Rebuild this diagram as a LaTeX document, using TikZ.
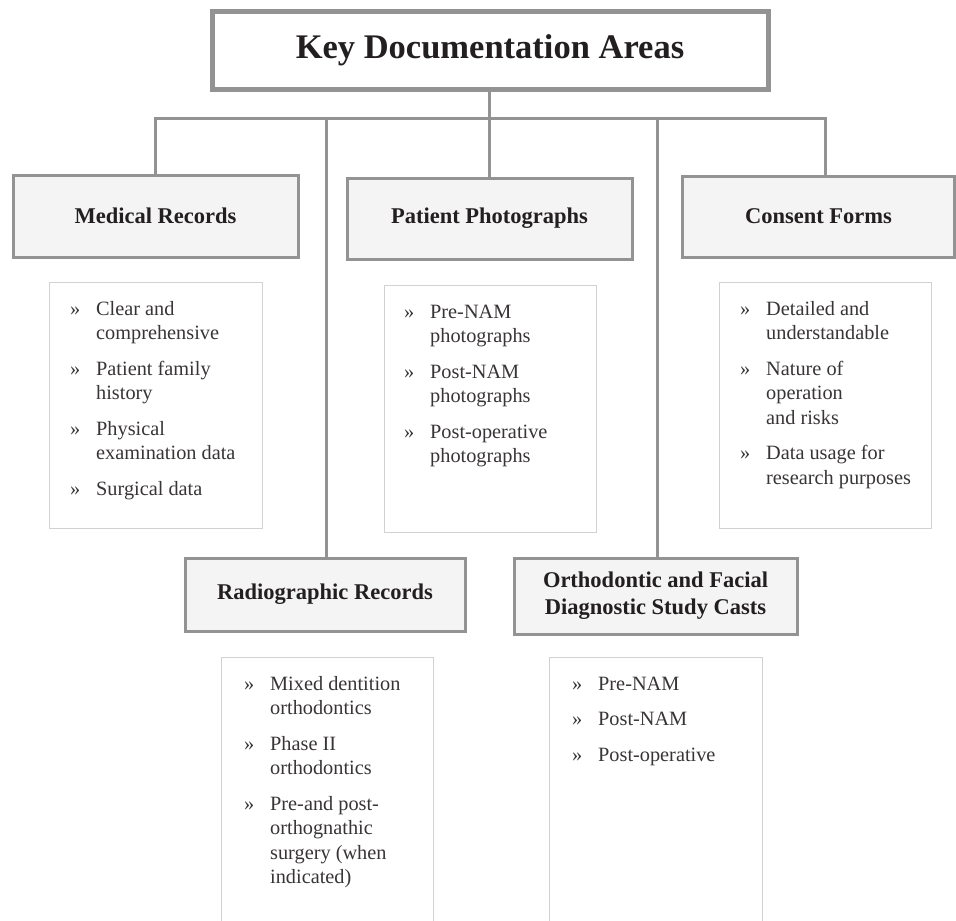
\documentclass[tikz,border=0pt]{standalone}
\usepackage{fontspec}
\setmainfont{Liberation Serif}
\definecolor{linegray}{HTML}{939393}
\definecolor{boxfill}{HTML}{F4F4F4}
\definecolor{listgray}{HTML}{D2D2D2}
\definecolor{txt}{HTML}{231F20}
\newcommand{\bul}{\makebox[26pt][l]{»}}
\begin{document}
\begin{tikzpicture}[x=1pt,y=-1pt,
  conn/.style={draw=linegray, line width=3pt},
  head/.style={draw=linegray, line width=3pt, fill=boxfill, inner sep=0pt, align=center, text=txt, font=\fontsize{22.5}{27}\selectfont\bfseries},
  listbox/.style={draw=listgray, line width=1pt, inner sep=0pt},
  listtext/.style={anchor=north west, inner sep=0pt, text=txt!90, font=\fontsize{20.3}{24.5}\selectfont, align=left}]
\clip (0,0) rectangle (956,921);
\fill[white] (0,0) rectangle (956,921);

% title
\node[draw=linegray, line width=5pt, fill=white, minimum width=556pt, minimum height=78pt, inner sep=0pt, text=txt, font=\fontsize{34.5}{40}\selectfont\bfseries] (title) at (490,50) {Key Documentation Areas};

% headers
\node[head, minimum width=285pt, minimum height=82pt] (med) at (155.5,216) {Medical Records};
\node[head, minimum width=285pt, minimum height=81pt] (pho) at (489.5,218.5) {Patient Photographs};
\node[head, minimum width=272pt, minimum height=81pt] (con) at (818.5,216.5) {Consent Forms};
\node[head, minimum width=280pt, minimum height=73pt] (rad) at (325,594.5) {Radiographic Records};
\node[head, minimum width=283pt, minimum height=76pt] (ort) at (655.5,596) {Orthodontic and Facial\\Diagnostic Study Casts};

% connectors
\coordinate (hub) at (489,118);
\coordinate (bl) at (155,118);
\coordinate (br) at (825,118);
\coordinate (c2) at (326,118);
\coordinate (c4) at (657,118);
\draw[conn] (title.south -| hub) -- (hub);
\draw[conn] ([xshift=-1.5pt]bl) -- ([xshift=1.5pt]br);
\draw[conn] (bl) -- (med.north -| bl);
\draw[conn] (hub) -- (pho.north -| hub);
\draw[conn] (br) -- (con.north -| br);
\draw[conn] (c2) -- (rad.north -| c2);
\draw[conn] (c4) -- (ort.north -| c4);

% list boxes
\node[listbox, minimum width=213pt, minimum height=246pt] (medl) at (155.5,405) {};
\node[listbox, minimum width=212pt, minimum height=247pt] (phol) at (490,408.5) {};
\node[listbox, minimum width=212pt, minimum height=246pt] (conl) at (825,405) {};
\node[listbox, minimum width=212pt, minimum height=273pt] (radl) at (327,793.5) {};
\node[listbox, minimum width=213pt, minimum height=273pt] (ortl) at (655.5,793.5) {};

% list texts
\node[listtext] (medt) at (70,297.9) {\begin{tabular}{@{}l@{}l@{}}
\bul & Clear and\\ & comprehensive\\[11pt]
\bul & Patient family\\ & history\\[11pt]
\bul & Physical\\ & examination data\\[11pt]
\bul & Surgical data
\end{tabular}};
\node[listtext] (phot) at (404,300.9) {\begin{tabular}{@{}l@{}l@{}}
\bul & Pre-NAM\\ & photographs\\[11pt]
\bul & Post-NAM\\ & photographs\\[11pt]
\bul & Post-operative\\ & photographs
\end{tabular}};
\node[listtext] (cont) at (740,297.9) {\begin{tabular}{@{}l@{}l@{}}
\bul & Detailed and\\ & understandable\\[11pt]
\bul & Nature of\\ & operation\\ & and risks\\[11pt]
\bul & Data usage for\\ & research purposes
\end{tabular}};
\node[listtext] (radt) at (244,672.9) {\begin{tabular}{@{}l@{}l@{}}
\bul & Mixed dentition\\ & orthodontics\\[11pt]
\bul & Phase II\\ & orthodontics\\[11pt]
\bul & Pre-and post-\\ & orthognathic\\ & surgery (when\\ & indicated)
\end{tabular}};
\node[listtext] (ortt) at (572,672.9) {\begin{tabular}{@{}l@{}l@{}}
\bul & Pre-NAM\\[11pt]
\bul & Post-NAM\\[11pt]
\bul & Post-operative
\end{tabular}};
\end{tikzpicture}
\end{document}
